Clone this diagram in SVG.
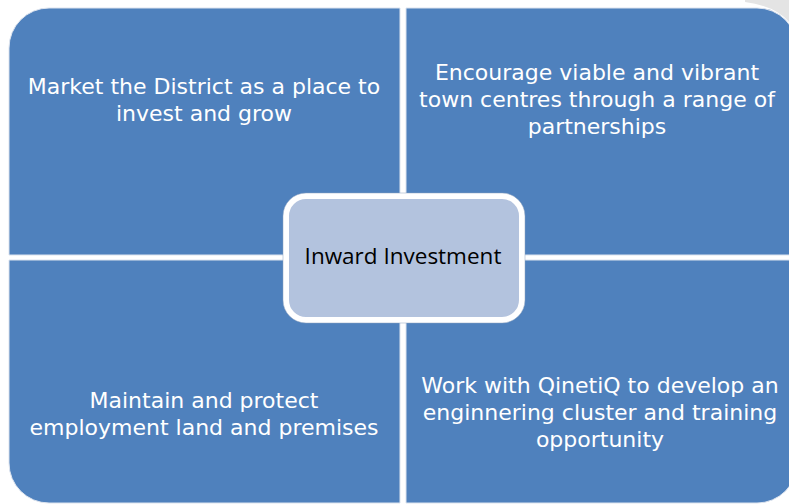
<svg xmlns="http://www.w3.org/2000/svg" width="789" height="504" viewBox="0 0 789 504">
<style>
.q{fill:#4F81BD;stroke:#DCE3EE;stroke-width:1}
.qt{font-family:"DejaVu Sans",Verdana,sans-serif;font-size:22px;fill:#FFFFFF;text-anchor:middle}
.ct{font-family:"Open Sans","Liberation Sans",sans-serif;font-size:22.5px;fill:#000000;text-anchor:middle}
</style>
<rect width="789" height="504" fill="#FFFFFF"/>
<path d="M745,0 L789,0 L789,22 Q775,6 745,2 Z" fill="#E4E4E4"/>
<g id="node-tl">
<path class="q" d="M9,48 A40,40 0 0 1 49,8 L400,8 L400,255 L9,255 Z"/>
<text class="qt" x="204" y="94">Market the District as a place to</text>
<text class="qt" x="204" y="121">invest and grow</text>
</g>
<g id="node-tr">
<path class="q" d="M406,8 L757,8 A40,40 0 0 1 797,48 L797,255 L406,255 Z"/>
<text class="qt" x="597" y="80">Encourage viable and vibrant</text>
<text class="qt" x="597" y="107">town centres through a range of</text>
<text class="qt" x="597" y="134">partnerships</text>
</g>
<g id="node-bl">
<path class="q" d="M9,260 L400,260 L400,503 L49,503 A40,40 0 0 1 9,463 Z"/>
<text class="qt" x="204" y="408">Maintain and protect</text>
<text class="qt" x="204" y="435">employment land and premises</text>
</g>
<g id="node-br">
<path class="q" d="M406,260 L797,260 L797,463 A40,40 0 0 1 757,503 L406,503 Z"/>
<text class="qt" x="600" y="393">Work with QinetiQ to develop an</text>
<text class="qt" x="600" y="420">enginnering cluster and training</text>
<text class="qt" x="600" y="447">opportunity</text>
</g>
<g id="connectors"></g>
<g id="node-center">
<rect x="286" y="196" width="236" height="124" rx="20" ry="20" fill="#B3C3DE" stroke="#FFFFFF" stroke-width="6"/>
<rect x="283" y="193" width="242" height="130" rx="23" ry="23" fill="none" stroke="#8FA2BF" stroke-width="0.5"/>
<text class="ct" x="403" y="264">Inward Investment</text>
</g>
</svg>
